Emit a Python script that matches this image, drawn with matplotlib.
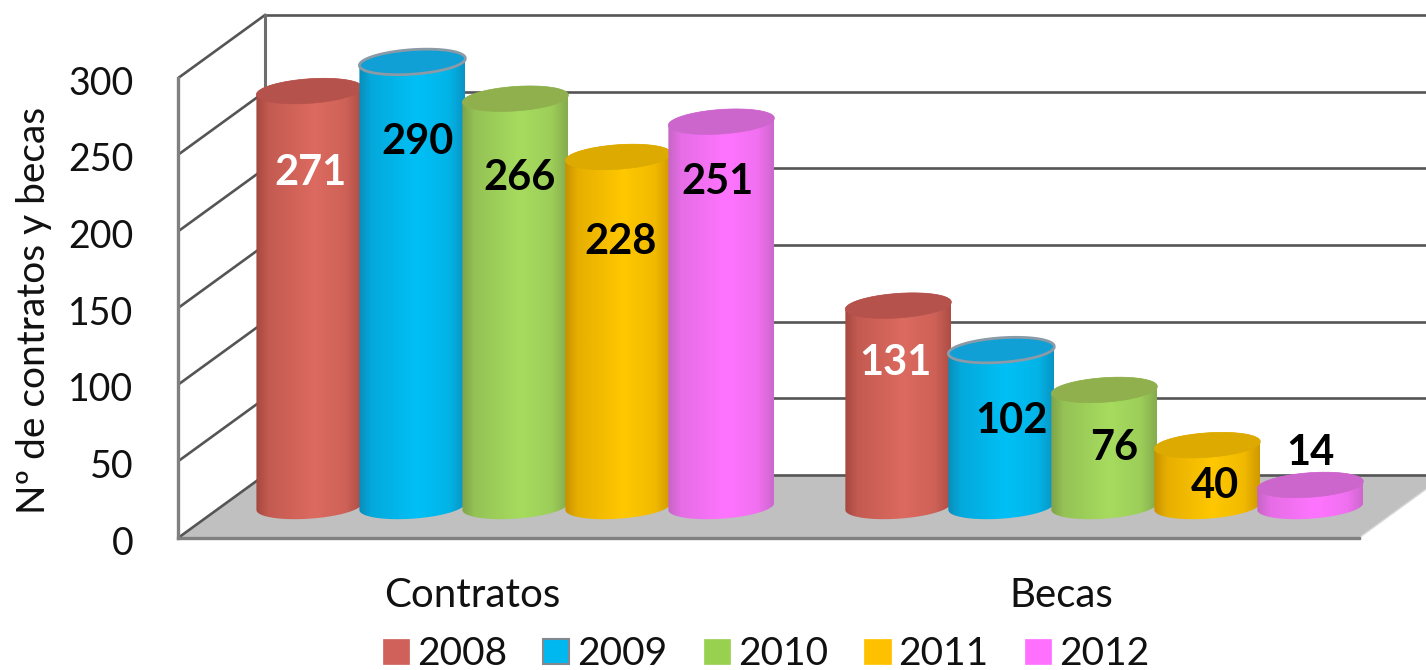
#!/usr/bin/env python
'''Contratos y becas por año, cilindros 3D falsos'''
import matplotlib
matplotlib.use('Agg')
import matplotlib.pyplot as plt
import numpy as np
from matplotlib.colors import to_rgb
from matplotlib.patches import Patch, PathPatch, Polygon
from matplotlib.path import Path
from matplotlib.transforms import ScaledTranslation

plt.rcParams['font.family'] = ['Lato', 'DejaVu Sans']

categories = ['Contratos', 'Becas']
years = ['2008', '2009', '2010', '2011', '2012']
contratos = [271, 290, 266, 228, 251]
becas = [131, 102, 76, 40, 14]
series = [contratos, becas]
yticks = [0, 50, 100, 150, 200, 250, 300]

# edge, centre, top
colors = [('#a5483f', '#dc6a60', '#b5524c'),
          ('#0a8dbb', '#00c0f6', '#10a0d6'),
          ('#7fa34a', '#a6dc5e', '#90b04e'),
          ('#c89000', '#ffc800', '#dcaa00'),
          ('#c565c5', '#ff74ff', '#cc66cc')]
legend_colors = ['#d0605a', '#00b8f0', '#98d050', '#ffc000', '#ff70ff']
label_colors = ['white', 'black', 'black', 'black', 'black']

# label offsets from top of the bar, pixels
label_off = [[(1, -82), (5, -80), (4, -79), (2, -85), (-4, -60)],
             [(-3, -57), (10, -71), (10, -58), (8, -41), (0, 32)]]

BAR_STEP = 103 / 589
BAR_W = 106 / 589
DEPTH_X = 87 / 589
DEPTH_Y = 41.2
ELL_B = 8.0
ELL_K = 2.3

fig = plt.figure(figsize=(14.26, 6.7), dpi=100)
ax = fig.add_axes([178 / 1426, (670 - 538) / 670, 1248 / 1426, 538 / 670])
xlim = (-0.499, 1.62)
ylim = (0, 351)
ax.set_xlim(xlim)
ax.set_ylim(ylim)
ax.set_autoscale_on(False)

# floor and walls
ax.add_patch(Polygon([(xlim[0], 0), (1.506, 0), (1.506 + DEPTH_X, DEPTH_Y),
                      (xlim[0] + DEPTH_X, DEPTH_Y)],
                     facecolor='#c0c0c0', edgecolor='none', zorder=1))
for t in yticks:
    ax.plot([xlim[0], xlim[0] + DEPTH_X], [t, t + DEPTH_Y], color='#555555', lw=1.9, zorder=1.5)
    ax.plot([xlim[0] + DEPTH_X, xlim[1]], [t + DEPTH_Y, t + DEPTH_Y], color='#555555', lw=1.9, zorder=1.5)
ax.plot([xlim[0] + DEPTH_X, xlim[0] + DEPTH_X], [DEPTH_Y, 300 + DEPTH_Y], color='#6e6e6e', lw=2.2, zorder=1.5)
ax.plot([1.506, 1.506 + DEPTH_X], [0, DEPTH_Y], color='#d8d8d8', lw=1, zorder=1.2)

for name in ['top', 'right']:
    ax.spines[name].set_visible(False)
ax.spines['left'].set_bounds(0, 300)
ax.spines['bottom'].set_bounds(xlim[0], 1.506)
for name in ['left', 'bottom']:
    ax.spines[name].set_color('#808080')
    ax.spines[name].set_linewidth(2.4)

ax.set_yticks(yticks)
ax.set_xticks(range(len(categories)))
ax.set_xticklabels(categories)
ax.tick_params(axis='y', length=0, pad=32, labelsize=27, labelcolor='#111111')
ax.tick_params(axis='x', length=0, pad=28, labelsize=29, labelcolor='#111111')
shift = ScaledTranslation(0, -1.5 / 72, fig.dpi_scale_trans)
for lab in ax.get_yticklabels():
    lab.set_transform(lab.get_transform() + shift)
ax.set_ylabel('Nº de contratos y becas', fontsize=28, color='#111111')
ax.yaxis.set_label_coords((52 - 178) / 1248, (538 - 310) / 538)


def ellipse(cx, cy, t):
    return (cx + BAR_W / 2 * np.cos(t), cy + ELL_B * np.sin(t) + ELL_K * np.cos(t))


def cylinder(cx, value, cols, z, rim=None):
    base = DEPTH_Y / 2
    top = base + value
    tb = np.linspace(np.pi, 2 * np.pi, 60)
    tt = np.linspace(0, np.pi, 60)
    xb, yb = ellipse(cx, base, tb)
    xt, yt = ellipse(cx, top, tt)
    verts = np.column_stack([np.r_[xb, xt], np.r_[yb, yt]])
    clip = Polygon(verts, closed=True, transform=ax.transData)

    # side with the horizontal shading
    pos = np.linspace(0, 1, 200)
    edge, mid = np.array(to_rgb(cols[0])), np.array(to_rgb(cols[1]))
    mix = np.interp(pos, [0, 0.12, 0.55, 0.85, 1], [0.0, 0.55, 1.0, 0.75, 0.15])
    grad = (edge[None, :] * (1 - mix[:, None]) + mid[None, :] * mix[:, None])[None, :, :]
    im = ax.imshow(grad, extent=(cx - BAR_W / 2, cx + BAR_W / 2, base - ELL_B - 3, top + ELL_B + 3),
                   aspect='auto', interpolation='bilinear', zorder=z)
    im.set_clip_path(clip)

    full = np.linspace(0, 2 * np.pi, 120)
    xe, ye = ellipse(cx, top, full)
    ax.add_patch(PathPatch(Path(np.column_stack([xe, ye])), facecolor=cols[2],
                           edgecolor=rim if rim else cols[2], lw=2 if rim else 0.5, zorder=z + 0.1))


z = 3
for g, vals in enumerate(series):
    for i, v in enumerate(vals):
        cx = g + DEPTH_X / 2 + (i - 2) * BAR_STEP
        cylinder(cx, v, colors[i], z, rim='#8a9aa6' if i == 1 else None)
        z += 1
        dx, dy = label_off[g][i]
        ax.annotate(str(v), (cx, DEPTH_Y / 2 + v), xytext=(dx, dy), textcoords='offset pixels',
                    ha='center', va='center', fontsize=30, fontweight='bold',
                    color=label_colors[i], zorder=50)

handles = []
for i, y in enumerate(years):
    handles.append(Patch(facecolor=legend_colors[i], edgecolor='#808890' if i == 1 else legend_colors[i],
                         lw=1.5 if i == 1 else 0.5, label=y))
fig.legend(handles=handles, loc='center', bbox_to_anchor=(766 / 1426, 1 - 654 / 670), ncol=5,
           frameon=False, fontsize=28, handlelength=0.67, handleheight=0.6, handletextpad=0.2,
           columnspacing=0.94, borderpad=0, labelcolor='#111111')

fig.savefig('out.png', dpi=100)
